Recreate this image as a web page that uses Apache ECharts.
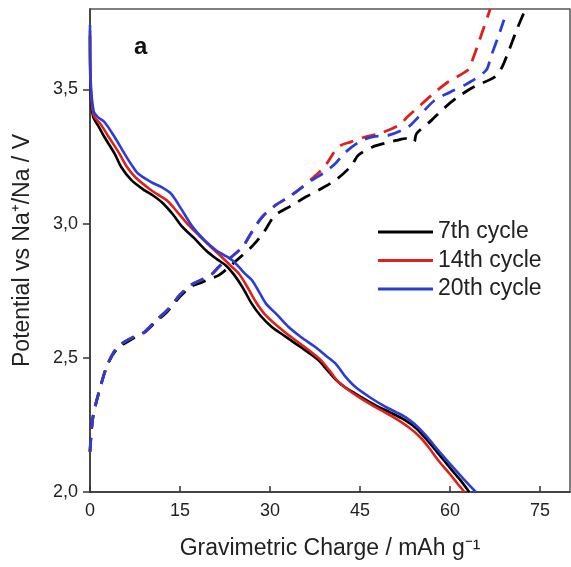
<!DOCTYPE html>
<html>
<head>
<meta charset="utf-8">
<script src="https://cdn.jsdelivr.net/npm/echarts@6/dist/echarts.min.js"></script>
<style>html,body{margin:0;padding:0;background:#fff;}#c{width:571px;height:567px;}</style>
</head>
<body>
<div id="c"></div>
<script>
// Discharge (solid) curves: [charge mAh/g, potential V]
const discharge7 = [[0,3.70],[0.1,3.50],[0.5,3.40],[1.5,3.36],[2.4,3.323],[4.1,3.261],[5.2,3.211],[6.9,3.162],[9.1,3.124],[10.5,3.105],[12.1,3.077],[13.8,3.035],[15.4,2.988],[17.4,2.945],[19.3,2.901],[21,2.87],[22.6,2.845],[24,2.81],[25.5,2.76],[27,2.70],[28.5,2.655],[30.3,2.615],[32.2,2.585],[34.2,2.554],[36.2,2.523],[38.1,2.491],[39.5,2.455],[40.9,2.42],[42.5,2.39],[44.2,2.367],[46,2.343],[48,2.318],[50,2.297],[52.5,2.268],[54.5,2.235],[56.3,2.19],[58,2.145],[60,2.09],[61.7,2.045],[63.2,2.0]];
const discharge14 = [[0,3.72],[0.1,3.52],[0.6,3.405],[1.8,3.37],[3.2,3.32],[4.8,3.265],[6.2,3.21],[7.6,3.172],[9.6,3.135],[11.2,3.11],[12.8,3.087],[14.5,3.045],[16.2,3.0],[18.2,2.955],[20.2,2.912],[22,2.875],[23.6,2.84],[24.8,2.814],[26.2,2.765],[27.6,2.71],[29,2.666],[30.8,2.627],[32.8,2.59],[34.6,2.56],[36.5,2.528],[38.3,2.495],[39.8,2.456],[41.2,2.415],[42.8,2.385],[44.5,2.358],[46.5,2.33],[48.5,2.305],[50.5,2.28],[53,2.243],[55,2.205],[56.5,2.165],[58,2.119],[60,2.066],[61.3,2.03],[62.4,2.0]];
const discharge20 = [[0,3.74],[0.1,3.54],[0.6,3.42],[1.3,3.397],[2.4,3.379],[4.1,3.323],[5.75,3.261],[6.9,3.22],[8.0,3.187],[10.2,3.155],[12,3.135],[13.5,3.112],[15.2,3.055],[17.1,2.988],[19,2.94],[21,2.901],[22.4,2.882],[23.7,2.864],[24.8,2.839],[26,2.81],[27,2.789],[28.2,2.745],[29.3,2.703],[31.2,2.66],[33.1,2.615],[35.2,2.577],[37.5,2.541],[39.2,2.51],[40.9,2.479],[42.5,2.432],[44.2,2.392],[46.5,2.355],[49.2,2.318],[51,2.298],[52.5,2.28],[54,2.255],[56,2.21],[58,2.156],[60,2.105],[62.2,2.05],[64.3,2.0]];
// Charge (dashed) curves
const charge7 = [[0,2.15],[0.5,2.28],[1.9,2.405],[3,2.479],[4.6,2.535],[7,2.57],[9.1,2.595],[11,2.635],[12.9,2.673],[15,2.728],[16.8,2.765],[18.5,2.78],[20,2.795],[21.5,2.808],[23.5,2.845],[25.4,2.882],[27.2,2.92],[29,2.969],[30.8,3.03],[33.7,3.069],[36,3.10],[38.6,3.131],[41.2,3.167],[43.6,3.217],[44.7,3.255],[47,3.285],[49.2,3.30],[51,3.31],[52.8,3.318],[54,3.305],[54.4,3.335],[56.9,3.385],[59,3.43],[61.3,3.472],[64,3.51],[67.4,3.546],[68.6,3.58],[69.6,3.633],[71.3,3.732],[72.6,3.80]];
const charge14 = [[0,2.15],[0.5,2.28],[1.9,2.405],[3,2.479],[4.6,2.541],[7,2.575],[9.1,2.597],[11,2.64],[12.9,2.678],[15,2.735],[16.8,2.771],[18.5,2.79],[20.4,2.814],[21.5,2.84],[23.5,2.875],[25.4,2.913],[27,2.97],[28.7,3.025],[31,3.07],[33.1,3.099],[35,3.13],[37,3.168],[39,3.21],[41.4,3.286],[43.5,3.305],[45.8,3.323],[48.5,3.338],[51.4,3.366],[53,3.40],[54.7,3.434],[57,3.48],[59.6,3.527],[62.9,3.571],[63.5,3.596],[64.9,3.683],[66.7,3.80]];
const charge20 = [[0,2.15],[0.5,2.28],[1.9,2.405],[3,2.479],[4.6,2.541],[7,2.575],[9.1,2.597],[11,2.64],[12.9,2.678],[15,2.735],[16.8,2.771],[18.5,2.79],[20.4,2.814],[21.5,2.84],[23.5,2.875],[25.4,2.913],[27,2.97],[28.7,3.025],[31,3.07],[33.1,3.099],[35,3.13],[37,3.162],[39,3.19],[40.9,3.224],[42.5,3.265],[45.3,3.31],[47.5,3.325],[49.7,3.329],[53,3.36],[54.7,3.397],[57.4,3.459],[60,3.49],[62.9,3.522],[66,3.571],[66.8,3.621],[68.2,3.707],[69,3.76]];
const seriesNames = ['7th cycle','14th cycle','20th cycle'];
const xTicks = [0,15,30,45,60,75];
const yTicks = [2.0,2.5,3.0,3.5];

const colors = ['#000000','#e0201b','#2a3ed6'];
const dis = [discharge7, discharge14, discharge20];
const chg = [charge7, charge14, charge20];

const series = [];
for (let i = 0; i < 3; i++) {
  series.push({name: seriesNames[i] + ' charge', type:'line', data: chg[i], showSymbol:false, symbol:'none', smooth:0.3,
    lineStyle:{color:colors[i], width:2.8, type:[14,9]}, itemStyle:{color:colors[i]}, z:2+i});
}
for (let i = 0; i < 3; i++) {
  series.push({name: seriesNames[i], type:'line', data: dis[i], showSymbol:false, symbol:'none', smooth:0.3,
    lineStyle:{color:colors[i], width:2.6}, itemStyle:{color:colors[i]}, z:5+i});
}

const chart = echarts.init(document.getElementById('c'), null, {renderer:'canvas'});
const FONT = 'Liberation Sans, Arial, sans-serif';
chart.setOption({
  animation:false,
  backgroundColor:'#fff',
  grid:{left:90, right:1, top:9, bottom:75, show:true, borderColor:'#555', borderWidth:1.5},
  legend:{data:seriesNames, orient:'vertical', left:373, top:215, itemWidth:55, itemHeight:3, icon:'rect', itemGap:4.5,
    textStyle:{fontFamily:FONT, fontSize:23, color:'#222', lineHeight:24}},
  xAxis:{type:'value', min:0, max:80, interval:15,
    name:'Gravimetric Charge / mAh g\u207B\u00B9', nameLocation:'middle', nameGap:45,
    nameTextStyle:{fontFamily:FONT, fontSize:23, color:'#222'},
    axisLine:{show:true, lineStyle:{color:'#333', width:1.5}},
    axisTick:{show:true, inside:true, length:6, lineStyle:{color:'#333', width:1.5}},
    axisLabel:{fontFamily:FONT, fontSize:18, color:'#222', margin:10, showMaxLabel:false,
      formatter:v => xTicks.includes(v) ? String(v) : ''},
    splitLine:{show:false}},
  yAxis:{type:'value', min:2.0, max:3.8, interval:0.5,
    name:'Potential vs Na\u207A/Na / V', nameLocation:'middle', nameGap:56,
    nameTextStyle:{fontFamily:FONT, fontSize:23, color:'#222'},
    axisLine:{show:true, lineStyle:{color:'#333', width:1.5}},
    axisTick:{show:true, inside:false, length:7, lineStyle:{color:'#333', width:1.5}},
    axisLabel:{fontFamily:FONT, fontSize:18, color:'#222', margin:12, showMaxLabel:false,
      formatter:v => yTicks.some(t => Math.abs(t-v)<1e-6) ? v.toFixed(1).replace('.',',') : ''},
    splitLine:{show:false}},
  graphic:[{type:'text', left:134, top:35, style:{text:'a', font:'bold 24px ' + FONT, fill:'#111'}}],
  series: series
});
</script>
</body>
</html>
